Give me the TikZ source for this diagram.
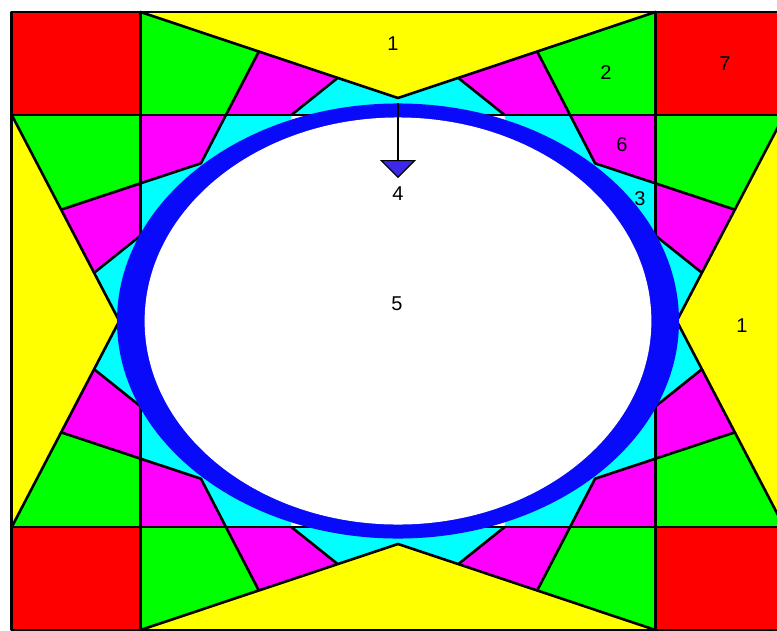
\documentclass[tikz,border=0pt]{standalone}
\usepackage{fontspec}
\setmainfont{Liberation Sans}
\usetikzlibrary{arrows.meta}
\definecolor{cYel}{RGB}{255,255,0}
\definecolor{cRed}{RGB}{255,0,0}
\definecolor{cGrn}{RGB}{0,255,0}
\definecolor{cMag}{RGB}{255,0,255}
\definecolor{cCyn}{RGB}{0,255,255}
\definecolor{cBlu}{RGB}{10,10,250}
\definecolor{cArr}{RGB}{60,40,230}
\tikzset{
  ln/.style={line width=2.6pt, line cap=round, line join=round, black},
  lbl/.style={font=\fontsize{20}{20}\selectfont, text=black, inner sep=0pt},
  rf/.style={fill=#1, draw=#1, line width=0.5pt}
}
\newcommand{\octfill}{%
  \filldraw[rf=cYel] (0,1.5) -- (1,1.5) -- (0,1.0824) -- cycle;
  \filldraw[rf=cRed] (1,1.5) -- (1.5,1.5) -- (1,1) -- cycle;
  \filldraw[rf=cGrn] (0.5412,1.3066) -- (1,1.5) -- (1,1) -- (0.6682,1) -- cycle;
  \filldraw[rf=cMag] (0.2346,1.1796) -- (0.5412,1.3066) -- (0.6682,1) -- (0.4142,1) -- cycle;
  \filldraw[rf=cCyn] (0,1.0824) -- (0.2346,1.1796) -- (0.4142,1) -- (0,1) -- cycle;
  \filldraw[rf=cMag] (0.6682,1) -- (1,1) -- (0.7654,0.7654) -- cycle;
  \filldraw[rf=cCyn] (0.4142,1) -- (0.6682,1) -- (0.7654,0.7654) -- (0.5,0.5) -- cycle;
}
\newcommand{\octlines}{%
  \draw[ln] (0,1.0824) -- (1,1.5);
  \draw[ln] (0.2346,1.1796) -- (0.4142,1);
  \draw[ln] (0.5412,1.3066) -- (0.7654,0.7654);
}
\begin{document}
\begin{tikzpicture}[x=1pt,y=1pt]
\useasboundingbox (0,0) rectangle (777,-630);
\clip (0,0) rectangle (777,-630);
\fill[white] (0,0) rectangle (777,-630);
\begin{scope}[shift={(398,-321)}, xscale=257.5, yscale=206]
  \foreach \r in {0,90,180,270}{
    \begin{scope}[rotate=\r]\octfill\end{scope}
    \begin{scope}[rotate=\r,xscale=-1]\octfill\end{scope}
  }
  \foreach \r in {0,90,180,270}{
    \begin{scope}[rotate=\r]\octlines\end{scope}
    \begin{scope}[rotate=\r,xscale=-1]\octlines\end{scope}
  }
  \draw[ln] (-1,-1.5) -- (-1,1.5);
  \draw[ln] (1,-1.5) -- (1,1.5);
  \draw[ln] (-1.5,-1) -- (1.5,-1);
  \draw[ln] (-1.5,1) -- (1.5,1);
  \draw[ln] (-1.5,-1.5) rectangle (1.5,1.5);
  \fill[cBlu] (0,0) ellipse[x radius=1.0913, y radius=1.056];
  \fill[white] (0,0) ellipse[x radius=0.984, y radius=0.988];
\end{scope}
\coordinate (arrA) at (398,-103);
\coordinate (arrB) at (398,-178);
\draw[line width=2.6pt, -{Triangle[width=36pt,length=18pt,fill=cArr,line width=1.2pt]}] (arrA) -- (arrB);
\node[lbl] (t1) at (393,-44) {1};
\node[lbl] (t2) at (606,-73) {2};
\node[lbl] (t7) at (725,-64) {7};
\node[lbl] (t6) at (622,-145) {6};
\node[lbl] (t3) at (640,-199) {3};
\node[lbl] (t4) at (398,-194) {4};
\node[lbl] (t5) at (397,-304) {5};
\node[lbl] (t1b) at (742,-326) {1};
\end{tikzpicture}
\end{document}
